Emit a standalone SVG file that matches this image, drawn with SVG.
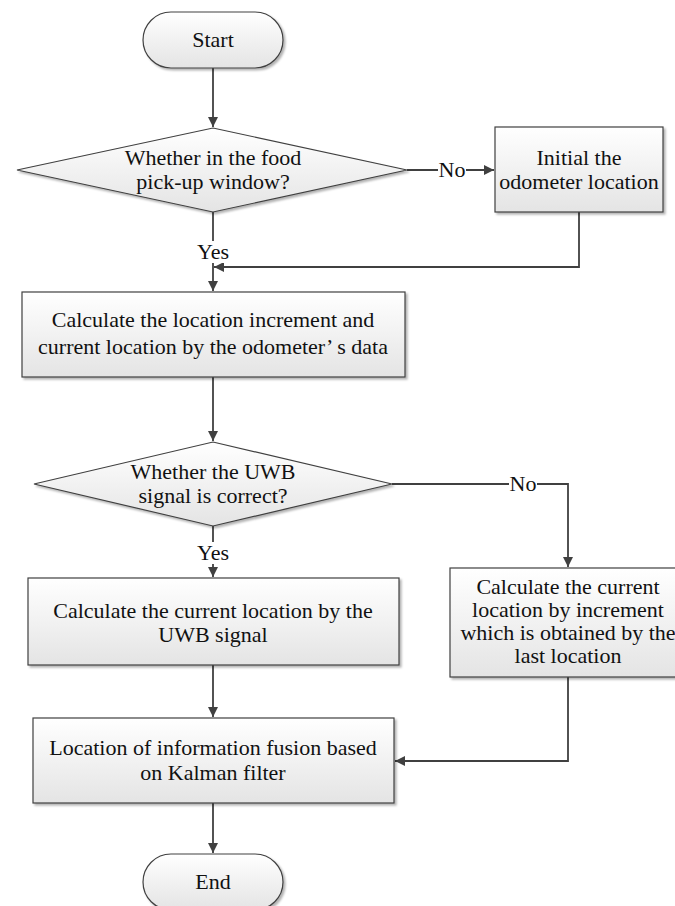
<svg xmlns="http://www.w3.org/2000/svg" width="675" height="906" viewBox="0 0 675 906" font-family="'Liberation Serif', 'Times New Roman', serif">
<defs>
<linearGradient id="g" x1="0" y1="0" x2="0" y2="1">
<stop offset="0" stop-color="#ffffff"/>
<stop offset="1" stop-color="#e4e4e4"/>
</linearGradient>
<filter id="sh" x="-5%" y="-5%" width="112%" height="120%">
<feDropShadow dx="2" dy="2" stdDeviation="1" flood-color="#000" flood-opacity="0.3"/>
</filter>
<marker id="ah" viewBox="0 0 10 10" refX="10" refY="5" markerWidth="10" markerHeight="10" markerUnits="userSpaceOnUse" orient="auto">
<path d="M0,0 L10,5 L0,10 z" fill="#404040"/>
</marker>
</defs>
<style>
.n{fill:url(#g);stroke:#404040;stroke-width:1.2;filter:url(#sh)}
.t{font-family:'Liberation Serif','Times New Roman',serif;font-size:22px;fill:#111;text-anchor:middle}
.c{fill:none;stroke:#404040;stroke-width:1.8}
.lb{fill:#fff}
</style>
<rect width="675" height="906" fill="#fff"/>
<g id="connectors">
<path class="c" d="M213,68 V127" marker-end="url(#ah)"/>
<path class="c" d="M407,170 H494" marker-end="url(#ah)"/>
<path class="c" d="M213,212 V291" marker-end="url(#ah)"/>
<path class="c" d="M579,212 V267 H214" marker-end="url(#ah)"/>
<path class="c" d="M213,377 V441" marker-end="url(#ah)"/>
<path class="c" d="M392,484 H568 V567" marker-end="url(#ah)"/>
<path class="c" d="M213,526 V577" marker-end="url(#ah)"/>
<path class="c" d="M568,677 V761 H395" marker-end="url(#ah)"/>
<path class="c" d="M213,665 V717" marker-end="url(#ah)"/>
<path class="c" d="M213,803 V853" marker-end="url(#ah)"/>
<rect class="lb" x="438" y="160" width="28" height="20"/>
<text class="t" x="452" y="177">No</text>
<rect class="lb" x="197" y="241" width="32" height="22"/>
<text class="t" x="213" y="259">Yes</text>
<rect class="lb" x="509" y="474" width="28" height="20"/>
<text class="t" x="523" y="491">No</text>
<rect class="lb" x="197" y="542" width="32" height="22"/>
<text class="t" x="213" y="560">Yes</text>
</g>
<g id="start">
<rect class="n" x="143" y="12" width="140" height="56" rx="28" ry="28"/>
<text class="t" x="213" y="47">Start</text>
</g>
<g id="decision1">
<polygon class="n" points="17,170 213,128 407,170 213,212"/>
<text class="t" x="213" y="165">Whether in the food</text>
<text class="t" x="213" y="189">pick-up window?</text>
</g>
<g id="init">
<rect class="n" x="495" y="127" width="168" height="85"/>
<text class="t" x="579" y="165">Initial the</text>
<text class="t" x="579" y="189">odometer location</text>
</g>
<g id="calc1">
<rect class="n" x="22" y="292" width="383" height="85"/>
<text class="t" x="213" y="327">Calculate the location increment and</text>
<text class="t" x="213" y="354">current location by the odometer’ s data</text>
</g>
<g id="decision2">
<polygon class="n" points="34,484 213,442 392,484 213,526"/>
<text class="t" x="213" y="479">Whether the UWB</text>
<text class="t" x="213" y="503">signal is correct?</text>
</g>
<g id="uwb">
<rect class="n" x="28" y="578" width="371" height="87"/>
<text class="t" x="213" y="618">Calculate the current location by the</text>
<text class="t" x="213" y="642">UWB signal</text>
</g>
<g id="increment">
<rect class="n" x="450" y="568" width="236" height="109"/>
<text class="t" x="568" y="594">Calculate the current</text>
<text class="t" x="568" y="617">location by increment</text>
<text class="t" x="568" y="640">which is obtained by the</text>
<text class="t" x="568" y="663">last location</text>
</g>
<g id="kalman">
<rect class="n" x="33" y="718" width="361" height="85"/>
<text class="t" x="213" y="755">Location of information fusion based</text>
<text class="t" x="213" y="780">on Kalman filter</text>
</g>
<g id="end">
<rect class="n" x="143" y="854" width="140" height="56" rx="28" ry="28"/>
<text class="t" x="213" y="889">End</text>
</g>
</svg>
